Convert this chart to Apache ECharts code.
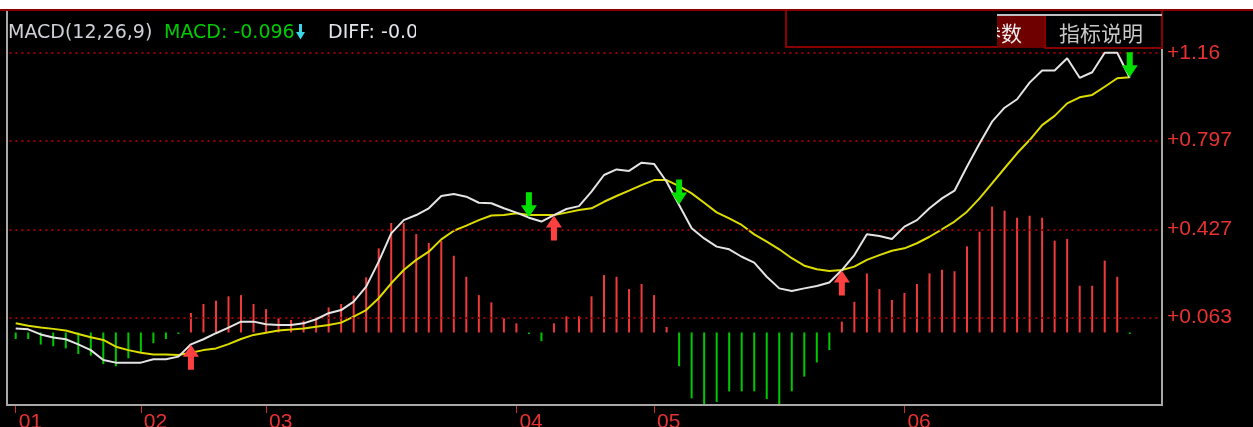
<!DOCTYPE html>
<html><head><meta charset="utf-8">
<script src="https://cdn.jsdelivr.net/npm/echarts@6/dist/echarts.min.js"></script>
<style>html,body{margin:0;padding:0;background:#000;}#c{width:1253px;height:427px;}</style>
</head><body><div id="c"></div>
<script>
// ---- data ----
const macdBars = [-0.027,-0.027,-0.050,-0.057,-0.066,-0.089,-0.096,-0.131,-0.140,-0.107,
  -0.082,-0.044,-0.027,-0.006,0.081,0.118,0.132,0.150,0.155,0.118,
  0.097,0.059,0.052,0.049,0.063,0.104,0.118,0.153,0.229,0.349,
  0.454,0.454,0.408,0.371,0.380,0.318,0.231,0.155,0.125,0.059,
  0.038,-0.006,-0.036,0.038,0.067,0.067,0.150,0.238,0.231,0.180,
  0.201,0.155,0.023,-0.140,-0.273,-0.300,-0.288,-0.244,-0.244,-0.244,
  -0.276,-0.300,-0.244,-0.183,-0.124,-0.073,0.045,0.127,0.245,0.180,
  0.135,0.164,0.201,0.245,0.260,0.254,0.357,0.418,0.522,0.505,
  0.476,0.484,0.476,0.381,0.388,0.194,0.194,0.298,0.231,-0.006];
const diffLine = [0.017,0.013,-0.008,-0.021,-0.028,-0.049,-0.073,-0.114,-0.125,-0.125,
  -0.125,-0.111,-0.111,-0.100,-0.049,-0.028,-0.003,0.020,0.045,0.045,
  0.034,0.031,0.031,0.038,0.055,0.080,0.093,0.128,0.190,0.294,
  0.411,0.466,0.487,0.515,0.566,0.574,0.563,0.538,0.536,0.515,
  0.497,0.476,0.460,0.487,0.512,0.524,0.584,0.653,0.676,0.670,
  0.704,0.699,0.625,0.529,0.432,0.390,0.356,0.345,0.314,0.290,
  0.231,0.183,0.172,0.183,0.193,0.207,0.259,0.321,0.407,0.400,
  0.388,0.439,0.466,0.515,0.556,0.588,0.688,0.784,0.874,0.932,
  0.967,1.036,1.086,1.086,1.137,1.056,1.079,1.160,1.160,1.056];
const deaLine = [0.038,0.028,0.021,0.015,0.008,-0.006,-0.020,-0.031,-0.059,-0.073,
  -0.084,-0.091,-0.091,-0.093,-0.084,-0.073,-0.066,-0.048,-0.027,-0.010,
  -0.001,0.008,0.012,0.017,0.024,0.031,0.041,0.066,0.093,0.142,
  0.204,0.259,0.301,0.335,0.386,0.422,0.443,0.466,0.485,0.487,
  0.494,0.487,0.487,0.487,0.497,0.508,0.515,0.542,0.566,0.588,
  0.611,0.632,0.632,0.607,0.577,0.538,0.498,0.473,0.446,0.407,
  0.377,0.345,0.308,0.277,0.262,0.255,0.259,0.273,0.301,0.321,
  0.339,0.349,0.370,0.397,0.428,0.460,0.501,0.556,0.618,0.681,
  0.743,0.798,0.860,0.898,0.950,0.975,0.985,1.019,1.054,1.058];
const slotCount = 92;
const categories = Array.from({length: slotCount}, (_, i) => String(i));
const xTickIndex = [0, 10, 20, 40, 51, 71];
const xTickLabels = ['01', '02', '03', '04', '05', '06'];
const yTickValues = [0.063, 0.427, 0.797, 1.16];
const upSignals = [14, 43, 66];
const downSignals = [41, 53, 89];
const legendTitle = 'MACD(12,26,9)';
const legendMacd = 'MACD: -0.096';
const legendDiff = 'DIFF: -0.058';
const tabLabels = ['参数', '指标说明'];

// ---- chart ----
const tickMap = {};
xTickIndex.forEach((k, j) => tickMap[k] = xTickLabels[j]);
const upArrow = 'path://M8,0L16,12L11,12L11,25L5,25L5,12L0,12Z';
const downArrow = 'path://M5,0L11,0L11,13L16,13L8,25L0,13L5,13Z';
const RED = '#e83232';

const chart = echarts.init(document.getElementById('c'), null, {renderer: 'canvas'});
chart.setOption({
  backgroundColor: '#000',
  animation: false,
  grid: {left: 9.44, top: 10, width: 1151.6, height: 395, containLabel: false, outerBoundsMode: 'none'},
  xAxis: {
    type: 'category', data: categories, boundaryGap: true,
    axisLine: {show: true, onZero: false, lineStyle: {color: '#a8a8a8', width: 2}},
    axisTick: {show: true, alignWithLabel: true, length: 8, interval: (i) => tickMap[i] !== undefined,
      lineStyle: {color: '#c83030', width: 1}},
    axisLabel: {interval: (i) => tickMap[i] !== undefined, formatter: (v, i) => tickMap[i] || '',
      color: RED, fontSize: 21, fontFamily: 'Liberation Sans, Arial', align: 'left', margin: 7,
      padding: [0, 0, 0, 3]},
    splitLine: {show: false}
  },
  yAxis: {
    type: 'value', min: -0.3006, max: 1.3371,
    axisLine: {show: false}, axisTick: {show: false}, axisLabel: {show: false}, splitLine: {show: false}
  },
  series: [
    {
      type: 'bar', data: macdBars, barWidth: 2, z: 2,
      itemStyle: {color: (p) => p.value >= 0 ? '#f03a3a' : '#00c800'},
      markLine: {
        silent: true, symbol: 'none', precision: 3,
        lineStyle: {color: '#9a0000', type: [2, 4], width: 2},
        label: {position: 'end', distance: 6, formatter: '{b}', color: RED, fontSize: 21,
          fontFamily: 'Liberation Sans, Arial'},
        data: yTickValues.map(v => ({yAxis: v, name: '+' + v}))
      }
    },
    {type: 'line', data: deaLine, symbol: 'none', z: 4, lineStyle: {color: '#dcdc00', width: 2}},
    {type: 'line', data: diffLine, symbol: 'none', z: 5, lineStyle: {color: '#e4e4e4', width: 2}},
    {type: 'scatter', z: 8, symbol: upArrow, symbolSize: [16, 25], symbolOffset: [0, 13],
      itemStyle: {color: '#ff4040', opacity: 1},
      data: upSignals.map(i => [i, diffLine[i]])},
    {type: 'scatter', z: 8, symbol: downArrow, symbolSize: [16, 25], symbolOffset: [0, -13],
      itemStyle: {color: '#00e000', opacity: 1},
      data: downSignals.map(i => [i, diffLine[i]])}
  ],
  graphic: [
    // top white strip and red rule
    {type: 'rect', z: 100, shape: {x: 0, y: 0, width: 1253, height: 9}, style: {fill: '#fff'}},
    {type: 'line', z: 100, shape: {x1: 0, y1: 10, x2: 1253, y2: 10}, style: {stroke: '#8a0000', lineWidth: 2}},
    // frame
    {type: 'line', z: 100, shape: {x1: 7, y1: 11, x2: 7, y2: 405}, style: {stroke: '#a8a8a8', lineWidth: 2}},
    {type: 'line', z: 100, shape: {x1: 6, y1: 405, x2: 1163, y2: 405}, style: {stroke: '#a8a8a8', lineWidth: 2}},
    {type: 'line', z: 100, shape: {x1: 1162, y1: 48, x2: 1162, y2: 406}, style: {stroke: '#a8a8a8', lineWidth: 2}},
    {type: 'line', z: 100, shape: {x1: 1162, y1: 10, x2: 1162, y2: 48}, style: {stroke: '#8a0000', lineWidth: 2}},
    // legend text
    {type: 'text', z: 100, x: 8, y: 33, style: {text: legendTitle, fill: '#cfd0d8', font: '19px "DejaVu Sans"', verticalAlign: 'middle'}},
    {type: 'text', z: 100, x: 164, y: 33, style: {text: legendMacd, fill: '#00cc00', font: '19px "DejaVu Sans"', verticalAlign: 'middle'}},
    {type: 'polygon', z: 100, shape: {points: [[299,24],[302,24],[302,32],[305,32],[300.5,39.5],[296,32],[299,32]]}, style: {fill: '#38d8e8'}},
    {type: 'text', z: 100, x: 328, y: 33, style: {text: legendDiff, fill: '#e4e4ec', font: '19px "DejaVu Sans"', verticalAlign: 'middle'}},
    {type: 'rect', z: 101, shape: {x: 416, y: 12, width: 369, height: 34}, style: {fill: '#000'}},
    // panel tabs
    {type: 'rect', z: 101, shape: {x: 997, y: 15, width: 48, height: 33}, style: {fill: '#6e0000'}},
    {type: 'text', z: 102, x: 1022, y: 33, style: {text: tabLabels[0], fill: '#ececec', font: '21px "Noto Sans CJK SC"', align: 'right', verticalAlign: 'middle'}},
    {type: 'rect', z: 103, shape: {x: 950, y: 12, width: 47, height: 34}, style: {fill: '#000'}},
    {type: 'polyline', z: 104, shape: {points: [[786,11],[786,47],[997,47]]}, style: {stroke: '#8a0000', lineWidth: 2, fill: null}},
    {type: 'rect', z: 101, shape: {x: 1045, y: 15, width: 117, height: 33}, style: {fill: '#000', stroke: '#8a0000', lineWidth: 2}},
    {type: 'text', z: 102, x: 1101, y: 33, style: {text: tabLabels[1], fill: '#c8c8c8', font: '21px "Noto Sans CJK SC"', align: 'center', verticalAlign: 'middle'}},
    {type: 'line', z: 104, shape: {x1: 997, y1: 15, x2: 1162, y2: 15}, style: {stroke: '#c0c0c0', lineWidth: 2}}
  ]
});
</script></body></html>
